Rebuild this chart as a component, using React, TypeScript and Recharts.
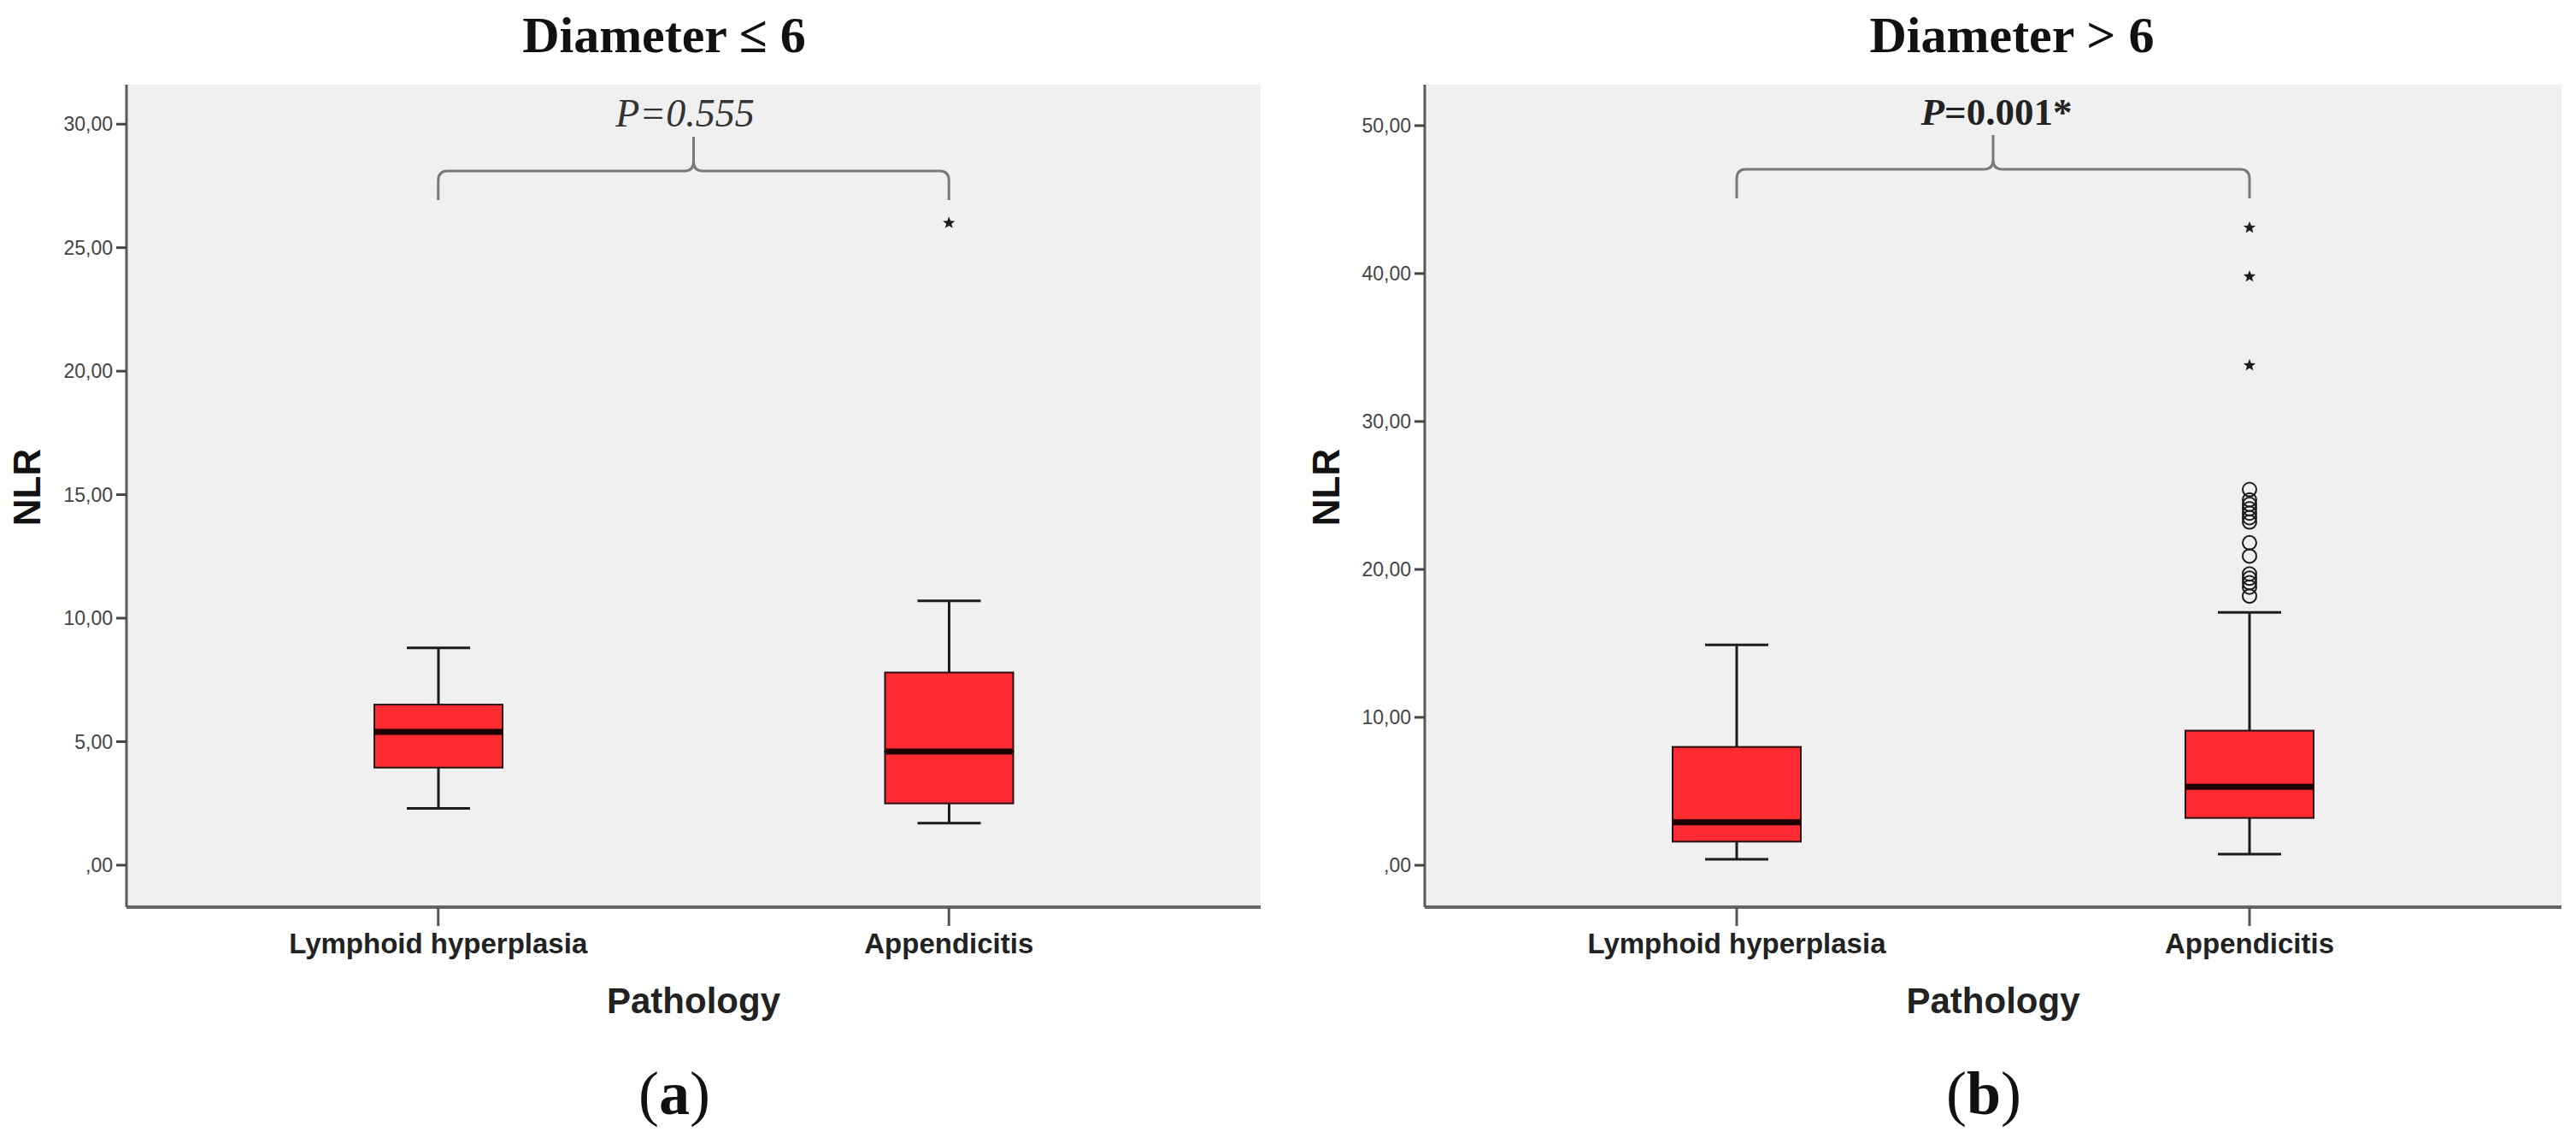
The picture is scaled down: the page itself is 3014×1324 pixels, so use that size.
import React from "react";
import { ComposedChart, Bar, Scatter, XAxis, YAxis, CartesianGrid, ReferenceLine, Label } from "recharts";

const categories = ["Lymphoid hyperplasia", "Appendicitis"];

// (a) Diameter ≤ 6
const minA = [2.3, 1.7];
const q1A = [3.95, 2.5];
const medianA = [5.4, 4.6];
const q3A = [6.5, 7.8];
const maxA = [8.8, 10.7];
const extremesA = [26.0];
const outliersA: number[] = [];
const ticksA = [0, 5, 10, 15, 20, 25, 30];

// (b) Diameter > 6
const minB = [0.4, 0.75];
const q1B = [1.6, 3.2];
const medianB = [2.9, 5.3];
const q3B = [8.0, 9.1];
const maxB = [14.9, 17.1];
const extremesB = [43.1, 39.8, 33.8];
const outliersB = [25.4, 24.7, 24.4, 24.1, 23.8, 23.5, 23.2, 21.8, 20.9, 19.7, 19.4, 19.1, 18.8, 18.2];
const ticksB = [0, 10, 20, 30, 40, 50];

const RED = "#ff2b33";
const INK = "#1c1c1c";
const CAP = 74;
const SANS = "'Liberation Sans', Arial, sans-serif";
const SERIF = "'Liberation Serif', 'Times New Roman', serif";

function buildRows(min: number[], q1: number[], med: number[], q3: number[], max: number[]) {
  return categories.map((cat, i) => ({
    cat,
    base: min[i],
    lowWhisker: q1[i] - min[i],
    lowBox: med[i] - q1[i],
    highBox: q3[i] - med[i],
    highWhisker: max[i] - q3[i],
  }))
}

const Empty = () => <g />

const LowWhisker = (p: any) => {
  const cx = p.x + p.width / 2
  const yb = p.y + p.height
  return (
    <g stroke={INK} strokeWidth={3}>
      <line x1={cx} x2={cx} y1={p.y} y2={yb} />
      <line x1={cx - CAP / 2} x2={cx + CAP / 2} y1={yb} y2={yb} />
    </g>
  )
}

const HighWhisker = (p: any) => {
  const cx = p.x + p.width / 2
  return (
    <g stroke={INK} strokeWidth={3}>
      <line x1={cx} x2={cx} y1={p.y} y2={p.y + p.height} />
      <line x1={cx - CAP / 2} x2={cx + CAP / 2} y1={p.y} y2={p.y} />
    </g>
  )
}

const LowBox = (p: any) => (
  <rect x={p.x} y={p.y} width={p.width} height={p.height} fill={RED} stroke="#2a1010" strokeWidth={2} />
)

const HighBox = (p: any) => (
  <g>
    <rect x={p.x} y={p.y} width={p.width} height={p.height} fill={RED} stroke="#2a1010" strokeWidth={2} />
    <line x1={p.x + 1} x2={p.x + p.width - 1} y1={p.y + p.height} y2={p.y + p.height} stroke="#1a0000" strokeWidth={7} />
  </g>
)

const Circle = (p: any) => <circle cx={p.cx} cy={p.cy} r={8} fill="none" stroke={INK} strokeWidth={2} />

const Star = (p: any) => {
  const pts: string[] = []
  for (let k = 0; k < 10; k++) {
    const r = k % 2 === 0 ? 7.5 : 3.2
    const a = -Math.PI / 2 + (k * Math.PI) / 5
    pts.push(`${p.cx + r * Math.cos(a)},${p.cy + r * Math.sin(a)}`)
  }
  return <polygon points={pts.join(" ")} fill={INK} />
}

const bracketShape = (renderP: (x: number, y: number) => React.ReactNode) => (p: any) => {
  const { x1, x2, y1 } = p
  const xm = (x1 + x2) / 2
  const r = 11
  const d = [
    `M ${x1} ${y1 + 34} L ${x1} ${y1 + r} Q ${x1} ${y1} ${x1 + r} ${y1}`,
    `L ${xm - r} ${y1} Q ${xm} ${y1} ${xm} ${y1 - r} L ${xm} ${y1 - 40}`,
    `M ${xm} ${y1 - r} Q ${xm} ${y1} ${xm + r} ${y1}`,
    `L ${x2 - r} ${y1} Q ${x2} ${y1} ${x2} ${y1 + r} L ${x2} ${y1 + 34}`,
  ].join(" ")
  return (
    <g>
      <path d={d} fill="none" stroke="#7a7a7a" strokeWidth={3} />
      {renderP(xm, y1 - 52)}
    </g>
  )
}

const pA = (x: number, y: number) => (
  <text x={x - 10} y={y} textAnchor="middle" fontFamily={SERIF} fontStyle="italic" fontSize={46} fill="#333">
    P=0.555
  </text>
)

const pB = (x: number, y: number) => (
  <text x={x + 4} y={y} textAnchor="middle" fontFamily={SERIF} fontWeight={700} fontSize={45} fill="#222">
    <tspan fontStyle="italic">P</tspan>=0.001*
  </text>
)

interface PanelProps {
  left: number
  rows: ReturnType<typeof buildRows>
  extremes: number[]
  outliers: number[]
  domain: [number, number]
  ticks: number[]
  pad: number
  yWidth: number
  marginRight: number
  bracketY: number
  renderP: (x: number, y: number) => React.ReactNode
  nlrX: number
}

function Panel({ left, rows, extremes, outliers, domain, ticks, pad, yWidth, marginRight, bracketY, renderP, nlrX }: PanelProps) {
  const starData = extremes.map((v) => ({ cat: categories[1], v }))
  const circleData = outliers.map((v) => ({ cat: categories[1], v }))
  return (
    <div style={{ position: "absolute", left, top: 0 }}>
      <ComposedChart width={1507} height={1324} data={rows} margin={{ top: 99, right: marginRight, bottom: 133, left: 0 }}>
        <CartesianGrid fill="#f0f0f0" horizontal={false} vertical={false} />
        <XAxis
          dataKey="cat"
          allowDuplicatedCategory={false}
          padding={{ left: pad, right: pad }}
          height={130}
          tickSize={22}
          tickMargin={9}
          tick={{ fontSize: 33, fontWeight: 700, fill: "#222", fontFamily: SANS }}
          axisLine={{ stroke: "#666", strokeWidth: 4 }}
          tickLine={{ stroke: "#555", strokeWidth: 3 }}
          label={
            <Label
              content={(lp: any) => (
                <text x={lp.viewBox.x + lp.viewBox.width / 2} y={lp.viewBox.y + 124} textAnchor="middle" fontFamily={SANS} fontWeight={700} fontSize={42} fill="#222">
                  Pathology
                </text>
              )}
            />
          }
        />
        <XAxis xAxisId="frame" dataKey="cat" orientation="top" height={0} tick={false} tickLine={false} axisLine={{ stroke: "#a0a0a0", strokeWidth: 5 }} />
        <YAxis
          type="number"
          domain={domain}
          allowDataOverflow
          ticks={ticks}
          width={yWidth}
          tickSize={12}
          tickMargin={4}
          tickFormatter={(v: number) => (v === 0 ? ",00" : `${v},00`)}
          tick={{ fontSize: 23, fill: "#444", fontFamily: SANS }}
          axisLine={{ stroke: "#5a5a5a", strokeWidth: 3 }}
          tickLine={{ stroke: "#444", strokeWidth: 3 }}
          label={
            <Label
              content={(lp: any) => {
                const cy = lp.viewBox.y + lp.viewBox.height / 2 - 10
                return (
                  <text x={nlrX} y={cy} transform={`rotate(-90 ${nlrX} ${cy})`} textAnchor="middle" dominantBaseline="central" fontFamily={SANS} fontWeight={700} fontSize={44} fill="#111">
                    NLR
                  </text>
                )
              }}
            />
          }
        />
        <YAxis yAxisId="frame" orientation="right" width={0} domain={[0, 1]} tick={false} tickLine={false} axisLine={{ stroke: "#a0a0a0", strokeWidth: 5 }} />
        <Bar dataKey="base" stackId="box" barSize={150} shape={Empty} isAnimationActive={false} />
        <Bar dataKey="lowWhisker" stackId="box" barSize={150} shape={LowWhisker} isAnimationActive={false} />
        <Bar dataKey="lowBox" stackId="box" barSize={150} shape={LowBox} isAnimationActive={false} />
        <Bar dataKey="highBox" stackId="box" barSize={150} shape={HighBox} isAnimationActive={false} />
        <Bar dataKey="highWhisker" stackId="box" barSize={150} shape={HighWhisker} isAnimationActive={false} />
        <Scatter data={circleData} dataKey="v" shape={Circle} isAnimationActive={false} />
        <Scatter data={starData} dataKey="v" shape={Star} isAnimationActive={false} />
        <ReferenceLine
          segment={[{ x: categories[0], y: bracketY }, { x: categories[1], y: bracketY }]}
          ifOverflow="visible"
          shape={bracketShape(renderP)}
        />
      </ComposedChart>
    </div>
  )
}

export default function App() {
  const rowsA = buildRows(minA, q1A, medianA, q3A, maxA)
  const rowsB = buildRows(minB, q1B, medianB, q3B, maxB)
  return (
    <div style={{ position: "absolute", left: 0, top: 0, width: 3014, height: 1324, background: "#fff", overflow: "hidden" }}>
      <Panel left={0} rows={rowsA} extremes={extremesA} outliers={outliersA} domain={[-1.7, 31.6]} ticks={ticksA}
        pad={66} yWidth={148} marginRight={32} bracketY={28.1} renderP={pA} nlrX={31} />
      <Panel left={1507} rows={rowsB} extremes={extremesB} outliers={outliersB} domain={[-2.83, 52.77]} ticks={ticksB}
        pad={65} yWidth={160} marginRight={17} bracketY={47.05} renderP={pB} nlrX={44} />
      <svg width={3014} height={1324} style={{ position: "absolute", left: 0, top: 0, pointerEvents: "none" }}>
        <g fontFamily={SERIF} fill="#111" textAnchor="middle">
          <text x={777} y={61} fontSize={60} fontWeight={700}>Diameter ≤ 6</text>
          <text x={2354} y={61} fontSize={60} fontWeight={700}>Diameter &gt; 6</text>
          <text x={789} y={1303} fontSize={72}>(<tspan fontWeight={700}>a</tspan>)</text>
          <text x={2321} y={1303} fontSize={72}>(<tspan fontWeight={700}>b</tspan>)</text>
        </g>
      </svg>
    </div>
  )
}
